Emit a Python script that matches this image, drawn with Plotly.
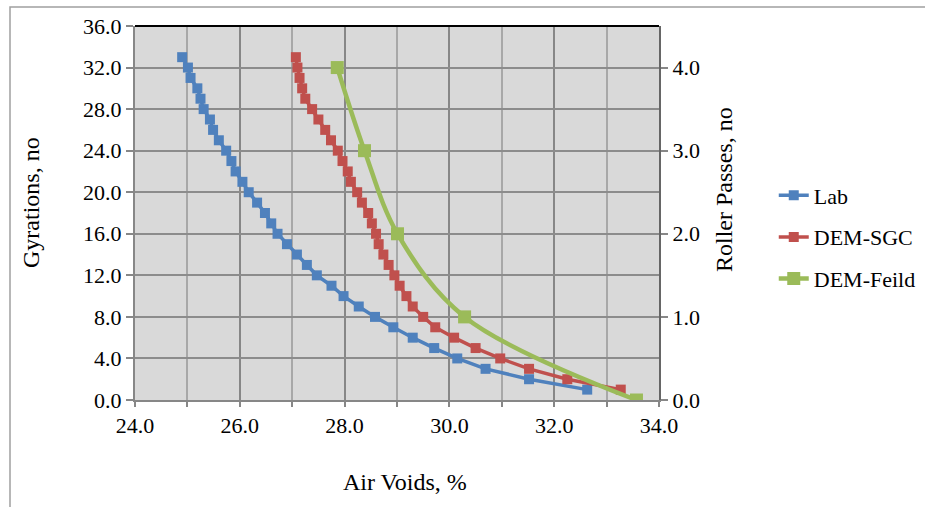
import plotly.graph_objects as go

# Gyration counts for the laboratory and DEM gyratory-compactor series
gyrations = [1, 2, 3, 4, 5, 6, 7, 8, 9, 10, 11, 12, 13, 14, 15, 16, 17,
             18, 19, 20, 21, 22, 23, 24, 25, 26, 27, 28, 29, 30, 31, 32, 33]

# Air voids (%) at each gyration
lab_voids = [32.63, 31.52, 30.69, 30.15, 29.71, 29.30, 28.93, 28.58, 28.27,
             27.98, 27.75, 27.47, 27.28, 27.09, 26.90, 26.72, 26.60, 26.48,
             26.33, 26.17, 26.05, 25.92, 25.84, 25.74, 25.60, 25.49, 25.43,
             25.31, 25.25, 25.19, 25.06, 25.01, 24.90]
sgc_voids = [33.27, 32.25, 31.52, 30.97, 30.50, 30.09, 29.73, 29.50, 29.30,
             29.18, 29.05, 28.95, 28.84, 28.74, 28.65, 28.60, 28.52, 28.45,
             28.33, 28.24, 28.12, 28.06, 27.96, 27.87, 27.74, 27.63, 27.50,
             27.38, 27.25, 27.19, 27.14, 27.10, 27.07]

# Field compaction: roller passes vs air voids
roller_passes = [0, 1, 2, 3, 4]
field_voids = [33.57, 30.29, 29.01, 28.38, 27.86]

x_ticks = [24.0, 26.0, 28.0, 30.0, 32.0, 34.0]

BLUE = "#4f81bd"
RED = "#c0504d"
GREEN = "#9bbb59"
FONT = "Liberation Serif, Times New Roman, serif"

fig = go.Figure()

fig.add_trace(go.Scatter(
    x=lab_voids, y=gyrations, name="Lab", legendgroup="a",
    mode="lines+markers",
    line=dict(color=BLUE, width=3.5),
    marker=dict(symbol="square", size=10, color=BLUE),
))
fig.add_trace(go.Scatter(
    x=sgc_voids, y=gyrations, name="DEM-SGC", legendgroup="b",
    mode="lines+markers",
    line=dict(color=RED, width=3.5),
    marker=dict(symbol="square", size=10, color=RED),
))
fig.add_trace(go.Scatter(
    x=field_voids, y=roller_passes, name="DEM-Feild", legendgroup="c",
    mode="lines+markers", yaxis="y2",
    line=dict(color=GREEN, width=4.5, shape="spline", smoothing=1),
    marker=dict(symbol="square", size=13, color=GREEN),
))

tick_font = dict(family=FONT, size=22, color="#000000")
title_font = dict(family=FONT, size=24, color="#000000")

fig.update_layout(
    width=925, height=507,
    margin=dict(l=135, r=266, t=26, b=107, autoexpand=False),
    paper_bgcolor="#ffffff",
    plot_bgcolor="#d9d9d9",
    font=dict(family=FONT, size=22, color="#000000"),
    showlegend=True,
    legend=dict(
        x=1.219, xanchor="left", y=0.603, yanchor="top",
        font=dict(family=FONT, size=22),
        bgcolor="rgba(0,0,0,0)", tracegroupgap=10,
        itemwidth=30,
    ),
    xaxis=dict(
        range=[24, 34], tickvals=x_ticks, tickformat=".1f",
        tickfont=tick_font,
        showgrid=True, gridcolor="#878787", gridwidth=2,
        ticks="outside", ticklen=5, tickcolor="#878787", tickwidth=2,
        minor=dict(dtick=1, showgrid=True, gridcolor="#a8a8a8", gridwidth=2,
                   ticks="outside", ticklen=5, tickcolor="#878787"),
        showline=True, linecolor="#878787", linewidth=2,
        zeroline=False, fixedrange=True,
    ),
    yaxis=dict(
        range=[0, 36], dtick=4, tickformat=".1f",
        tickfont=tick_font,
        showgrid=True, gridcolor="#8c8c8c", gridwidth=2,
        ticks="outside", ticklen=7, tickcolor="#878787", tickwidth=2,
        showline=True, linecolor="#878787", linewidth=2,
        zeroline=False, fixedrange=True,
    ),
    yaxis2=dict(
        range=[0, 4.5], dtick=1, tickformat=".1f",
        tickfont=tick_font,
        overlaying="y", side="right", showgrid=False,
        ticks="outside", ticklen=7, tickcolor="#878787", tickwidth=2,
        showline=True, linecolor="#666666", linewidth=2,
        zeroline=False, fixedrange=True,
    ),
    annotations=[
        dict(text="Air Voids, %", xref="paper", yref="paper",
             x=(405 - 135) / 524, y=(400 - 482) / 374,
             xanchor="center", yanchor="middle", showarrow=False,
             font=title_font),
        dict(text="Gyrations, no", xref="paper", yref="paper",
             x=(31 - 135) / 524, y=(400 - 203) / 374, textangle=-90,
             xanchor="center", yanchor="middle", showarrow=False,
             font=title_font),
        dict(text="Roller Passes, no", xref="paper", yref="paper",
             x=(724 - 135) / 524, y=(400 - 190) / 374, textangle=-90,
             xanchor="center", yanchor="middle", showarrow=False,
             font=title_font),
    ],
    shapes=[
        # black upper edge of the plotting area
        dict(type="line", xref="paper", yref="paper", x0=0, x1=1, y0=1, y1=1,
             line=dict(color="#000000", width=2)),
        # chart frame
        dict(type="rect", xref="paper", yref="paper",
             x0=(10 - 135) / 524, x1=(935 - 135) / 524,
             y0=(400 - 520) / 374, y1=(400 - 7) / 374,
             line=dict(color="#a0a0a0", width=1.5), layer="below"),
    ],
)

fig.write_html("out.html")
